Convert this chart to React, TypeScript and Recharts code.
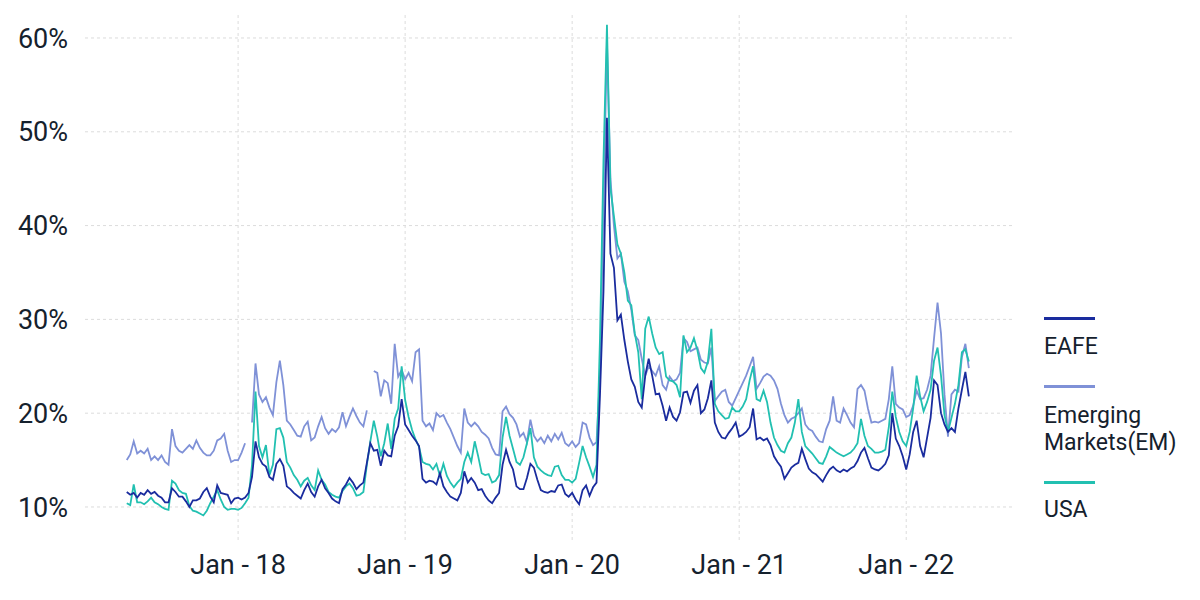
import React from 'react';
import { LineChart, Line, XAxis, YAxis, ReferenceLine } from 'recharts';

// Sampling: roughly weekly (quarter-month) points, x = months after Jan 2017
const START_MONTH = 4; // May 2017
const STEP = 0.25;

// EAFE volatility (%) - one row per month, 4 samples each
const EAFE: (number | null)[] = [
  11.6, 11.3, 11.5, 11.0, // May-17
  11.5, 11.3, 11.8, 11.4,
  11.6, 11.2, 11.0, 10.5,
  10.5, 12.0, 11.6, 11.1,
  11.1, 10.6, 10.0, 10.7,
  10.7, 10.9, 11.6, 12.0,
  11.1, 10.5, 12.3, 11.5,
  11.4, 11.3, 10.4, 10.9,
  11.0, 10.8, 11.0, 11.5, // Jan-18
  13.2, 17.0, 15.3, 14.6,
  14.3, 13.2, 12.9, 14.6,
  15.1, 14.4, 12.2, 11.9,
  11.5, 11.2, 10.9, 11.8,
  12.5, 11.6, 11.1, 12.2,
  12.9, 12.0, 11.5, 10.9,
  10.6, 10.4, 11.9, 12.4,
  13.1, 12.6, 11.9, 12.3,
  12.6, 14.7, 16.8, 16.0,
  16.1, 14.4, 16.0, 15.5,
  15.4, 17.6, 18.6, 21.5,
  18.8, 18.2, 17.6, 17.1, // Jan-19
  16.5, 13.0, 12.6, 12.8,
  12.7, 12.4, 13.6, 12.2,
  11.6, 11.1, 10.9, 10.7,
  11.5, 13.8, 12.6, 13.1,
  12.6, 11.8, 11.9, 11.2,
  10.7, 10.4, 11.0, 11.5,
  14.5, 16.1, 14.8, 14.0,
  12.2, 11.9, 11.9, 13.1,
  14.6, 14.2, 12.9, 11.8,
  11.6, 11.5, 11.7, 11.6,
  12.3, 12.4, 11.4, 11.1,
  11.5, 10.8, 10.3, 11.8, // Jan-20
  12.3, 11.2, 12.1, 12.6,
  22.0, 33.0, 51.5, 37.0,
  35.5, 29.9, 30.5, 27.8,
  25.5, 23.6, 22.8, 21.2,
  20.6, 24.0, 25.8, 24.0,
  22.0, 22.1, 20.8, 19.2,
  20.6, 19.6, 19.2, 20.1,
  22.2, 22.3, 21.1, 22.4,
  23.0, 20.0, 20.4, 21.6,
  23.5, 19.0, 18.0, 17.4,
  17.3, 17.9, 18.4, 19.0,
  17.5, 17.7, 18.0, 18.5, // Jan-21
  20.5, 17.2, 17.4, 17.1,
  17.3, 16.6, 15.4, 14.8,
  14.3, 13.0, 13.6, 14.2,
  14.5, 14.7, 16.2, 15.1,
  14.1, 13.7, 13.5, 13.1,
  12.7, 13.4, 14.0, 14.3,
  13.9, 13.7, 14.0, 13.8,
  14.1, 14.3, 14.9, 15.8,
  16.3, 15.2, 14.2, 14.0,
  13.9, 14.2, 14.6, 15.5,
  20.0, 17.3, 16.5, 15.4,
  14.0, 15.6, 18.0, 19.2, // Jan-22
  16.5, 15.3, 17.4, 19.5,
  23.5, 23.0, 20.0, 18.8,
  18.0, 18.4, 18.0, 20.5,
  22.5, 24.4, 21.8,
];

// Emerging Markets volatility (%)
const EM: (number | null)[] = [
  15.0, 15.6, 17.0, 15.7, // May-17
  16.0, 15.7, 16.2, 15.0,
  15.4, 15.0, 15.5, 14.8,
  14.5, 18.3, 16.5, 16.0,
  15.8, 16.2, 16.6, 16.2,
  17.1, 16.3, 15.8, 15.5,
  15.5, 16.0, 17.1, 17.3,
  17.8, 16.0, 14.8, 15.0,
  15.0, 15.8, 16.8, null, // Jan-18
  19.0, 25.3, 22.0, 21.2,
  21.7, 20.6, 19.8, 23.3,
  25.6, 23.0, 19.2, 18.8,
  18.2, 17.6, 17.5, 18.6,
  19.1, 17.1, 17.4, 18.6,
  19.6, 18.4, 17.8, 18.3,
  18.0, 18.5, 20.1, 18.6,
  19.6, 20.5, 19.7, 19.0,
  18.6, 20.3, null, 24.5,
  24.3, 21.8, 23.5, 23.2,
  21.0, 27.4, 23.9, 24.6,
  23.6, 24.3, 23.4, 26.5, // Jan-19
  26.8, 19.2, 18.6, 18.9,
  18.2, 20.0, 19.6, 19.8,
  19.0, 18.3, 17.4, 16.5,
  15.8, 20.5, 19.0, 18.6,
  19.0, 18.6, 18.0, 17.7,
  17.3, 16.3, 15.6, 15.5,
  20.2, 20.7, 19.9, 19.5,
  18.8, 17.5, 17.9, 16.9,
  19.3, 17.6, 17.0, 17.4,
  16.8, 17.6, 17.0, 17.8,
  17.2, 17.9, 16.8, 16.5,
  17.0, 16.4, 16.8, 19.0, // Jan-20
  18.8, 17.4, 16.6, 16.9,
  24.0, 42.0, 59.5, 45.0,
  40.0, 36.5, 37.0, 34.0,
  33.0, 31.0, 28.3, 27.8,
  25.8, 24.0, 25.0, 24.5,
  24.0, 25.0, 23.0, 22.5,
  23.9, 23.4, 23.6, 24.3,
  28.0, 27.6, 26.6, 26.8,
  27.0, 25.7, 25.4, 25.3,
  27.0, 21.3, 21.8, 22.3,
  22.5, 21.2, 20.8, 21.6,
  22.4, 23.2, 24.0, 25.0, // Jan-21
  26.0, 22.6, 23.2, 23.9,
  24.2, 24.0, 23.5, 22.6,
  21.0, 19.8, 19.0, 19.4,
  19.6, 20.0, 20.5, 18.8,
  18.3, 18.1, 17.5, 17.0,
  16.9, 18.3, 19.2, 21.8,
  19.2, 19.0, 20.5, 19.8,
  19.0, 18.5, 22.6, 23.0,
  22.4, 20.5, 19.0, 19.1,
  19.0, 19.2, 19.4, 21.5,
  25.0, 21.0, 20.6, 20.4,
  19.6, 19.8, 20.8, 22.4, // Jan-22
  21.5, 21.6, 22.5, 24.0,
  28.0, 31.8, 28.5, 22.0,
  17.5, 22.0, 22.5, 22.3,
  26.0, 27.4, 24.8,
];

// USA volatility (%)
const USA: (number | null)[] = [
  10.4, 10.2, 12.4, 10.5, // May-17
  10.5, 10.3, 10.6, 11.0,
  10.5, 10.3, 10.0, 9.8,
  9.7, 12.8, 12.5, 11.8,
  11.5, 11.4, 10.1, 9.6,
  9.5, 9.3, 9.1, 9.6,
  10.4, 11.1, 11.8, 10.8,
  10.0, 9.7, 9.8, 9.8,
  9.7, 9.9, 10.4, 11.0, // Jan-18
  14.5, 22.3, 16.5, 15.3,
  16.6, 13.4, 14.5, 18.3,
  18.4, 17.4, 14.8, 14.2,
  13.4, 12.9, 12.2, 12.8,
  13.1, 12.3, 11.8, 13.9,
  12.9, 12.4, 11.6, 11.3,
  11.1, 11.0, 11.7, 12.2,
  12.5, 12.0, 11.2, 11.3,
  11.6, 14.5, 17.0, 19.2,
  17.5, 15.4, 16.8, 18.9,
  16.2, 19.4, 20.5, 25.0,
  21.4, 19.6, 18.2, 17.2, // Jan-19
  16.4, 14.8, 14.6, 14.5,
  14.0, 14.6, 13.3, 14.6,
  13.3, 12.6, 12.1, 12.6,
  13.0, 14.8, 15.8, 14.8,
  17.0, 15.4, 13.6, 13.4,
  13.5, 12.6, 12.8, 13.4,
  17.4, 19.6, 17.6, 16.2,
  14.8, 14.5, 15.3, 16.8,
  18.4, 15.3, 14.3, 13.9,
  13.6, 13.4, 13.3, 14.3,
  14.4, 13.4, 12.9, 12.9,
  12.6, 13.0, 14.7, 16.5, // Jan-20
  15.3, 14.3, 13.2, 14.5,
  28.0, 47.0, 61.4, 44.0,
  41.0, 38.0, 37.0, 35.0,
  32.0, 31.5, 28.5, 26.5,
  21.5, 29.0, 30.3, 28.5,
  27.0, 26.3, 26.5, 23.9,
  23.5, 23.4, 23.0, 21.7,
  28.3, 26.5, 27.0, 28.0,
  26.7, 24.8, 24.3, 25.5,
  29.0, 21.0, 20.2, 19.8,
  19.4, 19.5, 20.6, 20.2,
  20.2, 20.7, 21.5, 23.5, // Jan-21
  25.0, 21.5, 21.3, 22.4,
  21.2, 19.0, 17.4, 16.6,
  16.0, 15.8, 16.8, 17.4,
  19.0, 21.5, 18.0, 16.5,
  16.1, 15.7, 15.2, 14.7,
  14.6, 15.4, 16.4, 16.1,
  15.8, 15.6, 15.4, 15.6,
  15.8, 16.2, 16.8, 19.4,
  17.6, 16.5, 16.2, 15.8,
  15.8, 15.9, 16.1, 18.5,
  22.3, 19.6, 18.0, 17.0,
  16.5, 18.0, 20.5, 24.0, // Jan-22
  21.8, 20.2, 21.2, 22.5,
  25.6, 27.0, 24.0, 19.8,
  18.0, 19.5, 21.0, 23.0,
  26.5, 26.8, 25.5,
];

const X_TICKS = [12, 24, 36, 48, 60];
const X_TICK_LABELS = ['Jan - 18', 'Jan - 19', 'Jan - 20', 'Jan - 21', 'Jan - 22'];
const Y_TICKS = [10, 20, 30, 40, 50, 60];

const SERIES = [
  { key: 'eafe', name: 'EAFE', color: '#1a2c9e' },
  { key: 'em', name: 'Emerging Markets(EM)', color: '#7f91d7' },
  { key: 'usa', name: 'USA', color: '#22c0b1' },
];

const data = EAFE.map((v, i) => ({
  t: START_MONTH + i * STEP,
  eafe: v,
  em: EM[i],
  usa: USA[i],
}));

const TEXT = '#15212d';
const GRID = '#dcdcdc';

export default function App() {
  return (
    <div style={{ position: 'relative', width: 1184, height: 584, fontFamily: 'Roboto, sans-serif' }}>
      <LineChart width={1184} height={584} data={data} margin={{ top: 7, right: 180, bottom: 0, left: 0 }}>
        <XAxis
          type="number"
          dataKey="t"
          domain={[1.0, 67.6]}
          ticks={X_TICKS}
          tickFormatter={(v: number) => X_TICK_LABELS[X_TICKS.indexOf(v)]}
          axisLine={false}
          tickLine={false}
          tick={{ fontSize: 27, fill: TEXT }}
          tickMargin={9}
          height={52}
          allowDataOverflow
        />
        <YAxis
          type="number"
          domain={[6.48, 62.45]}
          ticks={Y_TICKS}
          tickFormatter={(v: number) => `${v}%`}
          axisLine={false}
          tickLine={false}
          tick={{ fontSize: 27, fill: TEXT }}
          tickMargin={11}
          width={77}
          allowDataOverflow
        />
        {Y_TICKS.map((v) => (
          <ReferenceLine key={`y${v}`} y={v} stroke={GRID} strokeDasharray="3 3" />
        ))}
        {X_TICKS.map((v) => (
          <ReferenceLine key={`x${v}`} x={v} stroke={GRID} strokeDasharray="3 3" />
        ))}
        <Line dataKey="em" stroke="#7f91d7" strokeWidth={1.8} dot={false} isAnimationActive={false} connectNulls={false} />
        <Line dataKey="usa" stroke="#22c0b1" strokeWidth={1.8} dot={false} isAnimationActive={false} />
        <Line dataKey="eafe" stroke="#1a2c9e" strokeWidth={1.8} dot={false} isAnimationActive={false} />
      </LineChart>
      {/* Legend */}
      <div style={{ position: 'absolute', left: 1036, top: 308.5, width: 51, height: 3, background: SERIES[0].color }} />
      <div style={{ position: 'absolute', left: 1036, top: 324.7, fontSize: 23, lineHeight: '27px', color: TEXT, whiteSpace: 'nowrap' }}>
        {SERIES[0].name}
      </div>
      <div style={{ position: 'absolute', left: 1036, top: 376.5, width: 51, height: 3, background: SERIES[1].color }} />
      <div style={{ position: 'absolute', left: 1036, top: 393.7, fontSize: 23, lineHeight: '27.4px', color: TEXT, width: 148 }}>
        Emerging<br />Markets(EM)
      </div>
      <div style={{ position: 'absolute', left: 1036, top: 472.5, width: 51, height: 3, background: SERIES[2].color }} />
      <div style={{ position: 'absolute', left: 1036, top: 487.7, fontSize: 23, lineHeight: '27px', color: TEXT, whiteSpace: 'nowrap' }}>
        {SERIES[2].name}
      </div>
    </div>
  );
}
